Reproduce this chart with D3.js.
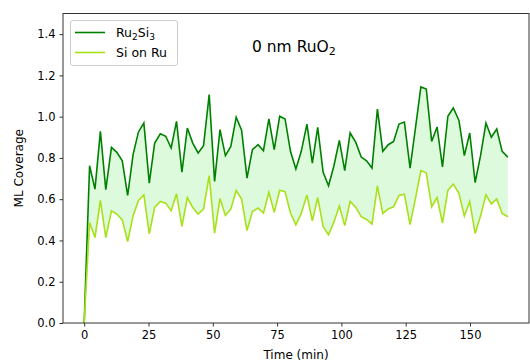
<!DOCTYPE html>
<html>
<head>
<meta charset="utf-8">
<script src="https://cdn.jsdelivr.net/npm/d3@7"></script>
<style>
  body { margin: 0; background: #fff; }
  svg { font-family: "DejaVu Sans", sans-serif; }
</style>
</head>
<body>
<div id="chart"></div>
<script>
// time points (min)
const times = [0, 2.1, 4.2, 6.3, 8.4, 10.6, 12.7, 14.8, 16.9, 19.0, 21.1, 23.2, 25.3, 27.4, 29.6, 31.7,
  33.8, 35.9, 38.0, 40.1, 42.2, 44.3, 46.4, 48.6, 50.7, 52.8, 54.9, 57.0, 59.1, 61.2, 63.3, 65.4,
  67.6, 69.7, 71.8, 73.9, 76.0, 78.1, 80.2, 82.3, 84.4, 86.6, 88.7, 90.8, 92.9, 95.0, 97.1, 99.2,
  101.3, 103.4, 105.6, 107.7, 109.8, 111.9, 114.0, 116.1, 118.2, 120.3, 122.4, 124.5, 126.7, 128.8,
  130.9, 133.0, 135.1, 137.2, 139.3, 141.4, 143.5, 145.7, 147.8, 149.9, 152.0, 154.1, 156.2, 158.3,
  160.4, 162.5, 164.7];

// Ru2Si3 coverage
const ru2si3 = [0, 0.762, 0.649, 0.929, 0.646, 0.851, 0.827, 0.786, 0.618, 0.816, 0.926, 0.969, 0.678, 0.872, 0.917, 0.905,
  0.848, 0.977, 0.731, 0.945, 0.872, 0.824, 0.859, 1.107, 0.686, 0.937, 0.811, 0.856, 0.997, 0.934, 0.702, 0.840,
  0.864, 0.835, 0.989, 0.840, 1.002, 0.989, 0.832, 0.746, 0.832, 0.964, 0.775, 0.948, 0.730, 0.665, 0.762, 0.885,
  0.739, 0.921, 0.875, 0.804, 0.786, 0.751, 1.037, 0.832, 0.864, 0.880, 0.964, 0.974, 0.751, 0.945, 1.144, 1.134,
  0.880, 0.950, 0.756, 1.002, 1.042, 0.982, 0.811, 0.921, 0.681, 0.811, 0.969, 0.900, 0.940, 0.832, 0.804];

// Si on Ru coverage
const siOnRu = [0, 0.487, 0.414, 0.594, 0.414, 0.544, 0.528, 0.500, 0.395, 0.519, 0.594, 0.621, 0.432, 0.560, 0.589, 0.581,
  0.544, 0.626, 0.468, 0.608, 0.560, 0.528, 0.552, 0.714, 0.435, 0.603, 0.521, 0.552, 0.642, 0.601, 0.448, 0.540,
  0.557, 0.533, 0.634, 0.536, 0.643, 0.636, 0.533, 0.476, 0.531, 0.621, 0.495, 0.608, 0.468, 0.427, 0.490, 0.567,
  0.472, 0.589, 0.560, 0.515, 0.502, 0.479, 0.665, 0.531, 0.553, 0.563, 0.618, 0.624, 0.477, 0.604, 0.739, 0.728,
  0.563, 0.608, 0.484, 0.643, 0.673, 0.629, 0.519, 0.589, 0.434, 0.519, 0.621, 0.577, 0.601, 0.531, 0.515];

const xTicks = [0, 25, 50, 75, 100, 125, 150];
const yTicks = [0, 0.2, 0.4, 0.6, 0.8, 1.0, 1.2, 1.4];

const width = 530, height = 363;
const margin = { top: 13.5, right: 1, bottom: 40, left: 63 };

const svg = d3.select("#chart").append("svg")
  .attr("width", width)
  .attr("height", height);

const x = d3.scaleLinear()
  .domain([-8.24, 172.94])
  .range([margin.left, width - margin.right]);

const y = d3.scaleLinear()
  .domain([0, 1.5])
  .range([height - margin.bottom, margin.top]);

const data = times.map((t, i) => ({ t, hi: ru2si3[i], lo: siOnRu[i] }));

// shaded band between the two curves
svg.append("path")
  .datum(data)
  .attr("fill", "#90ee90")
  .attr("fill-opacity", 0.3)
  .attr("d", d3.area().x(d => x(d.t)).y0(d => y(d.lo)).y1(d => y(d.hi)));

svg.append("path")
  .datum(data)
  .attr("fill", "none")
  .attr("stroke", "#008000")
  .attr("stroke-width", 1.6)
  .attr("d", d3.line().x(d => x(d.t)).y(d => y(d.hi)));

svg.append("path")
  .datum(data)
  .attr("fill", "none")
  .attr("stroke", "#a8e01a")
  .attr("stroke-width", 1.6)
  .attr("d", d3.line().x(d => x(d.t)).y(d => y(d.lo)));

// axes
const xAxis = svg.append("g")
  .attr("transform", `translate(0,${height - margin.bottom})`)
  .call(d3.axisBottom(x).tickValues(xTicks).tickSize(3.5).tickPadding(4).tickFormat(d3.format("d")));

const yAxis = svg.append("g")
  .attr("transform", `translate(${margin.left},0)`)
  .call(d3.axisLeft(y).tickValues(yTicks).tickSize(3.5).tickPadding(4).tickFormat(d3.format(".1f")));

[xAxis, yAxis].forEach(g => {
  g.selectAll("text").attr("font-size", 11.5).attr("fill", "#000").attr("font-family", "DejaVu Sans");
  g.selectAll("line").attr("stroke", "#333");
  g.select(".domain").remove();
});

// frame
svg.append("rect")
  .attr("x", margin.left)
  .attr("y", margin.top)
  .attr("width", width - margin.right - margin.left)
  .attr("height", height - margin.bottom - margin.top)
  .attr("fill", "none")
  .attr("stroke", "#333")
  .attr("stroke-width", 1);

// axis labels
svg.append("text")
  .attr("x", (margin.left + width - margin.right) / 2)
  .attr("y", 359)
  .attr("text-anchor", "middle")
  .attr("font-size", 12)
  .text("Time (min)");

svg.append("text")
  .attr("transform", `translate(23,${(margin.top + height - margin.bottom) / 2}) rotate(-90)`)
  .attr("text-anchor", "middle")
  .attr("font-size", 12)
  .text("ML Coverage");

// annotation
const note = svg.append("text")
  .attr("x", 252)
  .attr("y", 52)
  .attr("font-size", 15.5)
  .text("0 nm RuO");
note.append("tspan").attr("font-size", 11).attr("dy", 3).text("2");

// legend
const legend = svg.append("g");
legend.append("rect")
  .attr("x", 70.5).attr("y", 20.5)
  .attr("width", 107).attr("height", 45)
  .attr("rx", 2.5)
  .attr("fill", "#fff").attr("fill-opacity", 0.8)
  .attr("stroke", "#ccc");

const items = [
  { name: "Ru", sub1: "2", mid: "Si", sub2: "3", color: "#008000", yy: 32.5 },
  { name: "Si on Ru", color: "#a8e01a", yy: 52.5 }
];
items.forEach(it => {
  legend.append("line")
    .attr("x1", 75).attr("x2", 105)
    .attr("y1", it.yy).attr("y2", it.yy)
    .attr("stroke", it.color).attr("stroke-width", 1.6);
  const t = legend.append("text")
    .attr("x", 116).attr("y", it.yy + 4.5)
    .attr("font-size", 12.5)
    .text(it.name);
  if (it.sub1) {
    t.append("tspan").attr("font-size", 9).attr("dy", 2.5).text(it.sub1);
    t.append("tspan").attr("dy", -2.5).text(it.mid);
    t.append("tspan").attr("font-size", 9).attr("dy", 2.5).text(it.sub2);
  }
});
</script>
</body>
</html>
